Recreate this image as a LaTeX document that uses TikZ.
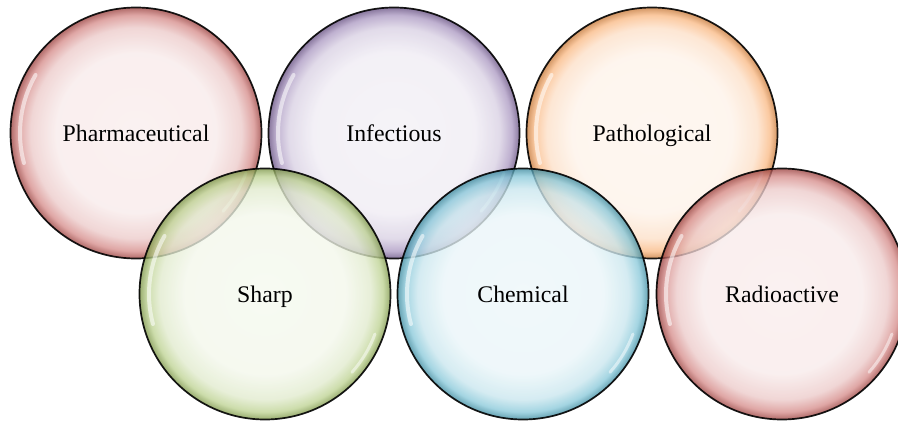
\documentclass[tikz,border=0pt]{standalone}
\usepackage{fontspec}
\setmainfont{Liberation Serif}

\definecolor{accred}{HTML}{C0504D}
\definecolor{accpurple}{HTML}{8064A2}
\definecolor{accorange}{HTML}{F79646}
\definecolor{accgreen}{HTML}{9BBB59}
\definecolor{accblue}{HTML}{4BACC6}
\colorlet{bubcol}{accred}

\pgfdeclareradialshading[bubcol]{bubble}{\pgfpoint{0bp}{0bp}}{%
    color(0bp)=(bubcol!10!white); color(16bp)=(bubcol!12!white);
    color(21bp)=(bubcol!30!white); color(23.5bp)=(bubcol!65!white);
    color(25bp)=(bubcol!80!black); color(50bp)=(bubcol!80!black)}

\begin{document}
\begin{tikzpicture}[
    x=1pt, y=1pt,
    tint/.code={\colorlet{bubcol}{#1}},
    bubble/.style={circle, tint=#1, shading=bubble, fill opacity=0.78,
                   text opacity=1, draw=black, draw opacity=0.9,
                   line width=1.7pt, minimum size=251pt, inner sep=0pt,
                   text height=22pt, text depth=5pt,
                   font=\fontsize{23.8}{28}\selectfont,
                   path picture={
                     \draw[white, line width=4pt, opacity=0.55, line cap=round]
                       (path picture bounding box.center) ++(150:116pt)
                       arc[start angle=150, end angle=195, radius=116pt];
                     \draw[white, line width=3pt, opacity=0.5, line cap=round]
                       (path picture bounding box.center) ++(-20:117pt)
                       arc[start angle=-20, end angle=-42, radius=117pt];
                   }},
]
    \useasboundingbox (0, 0) rectangle (898, 421);

    % top row
    \node[bubble=accred] (pharma) at (136, 288) {Pharmaceutical};
    \node[bubble=accpurple] (infect) at (394, 288) {Infectious};
    \node[bubble=accorange] (patho) at (652, 288) {Pathological};

    % bottom row
    \node[bubble=accgreen] (sharp) at (265, 127) {Sharp};
    \node[bubble=accblue] (chem) at (523, 127) {Chemical};
    \node[bubble=accred] (radio) at (782, 127) {Radioactive};
\end{tikzpicture}
\end{document}
